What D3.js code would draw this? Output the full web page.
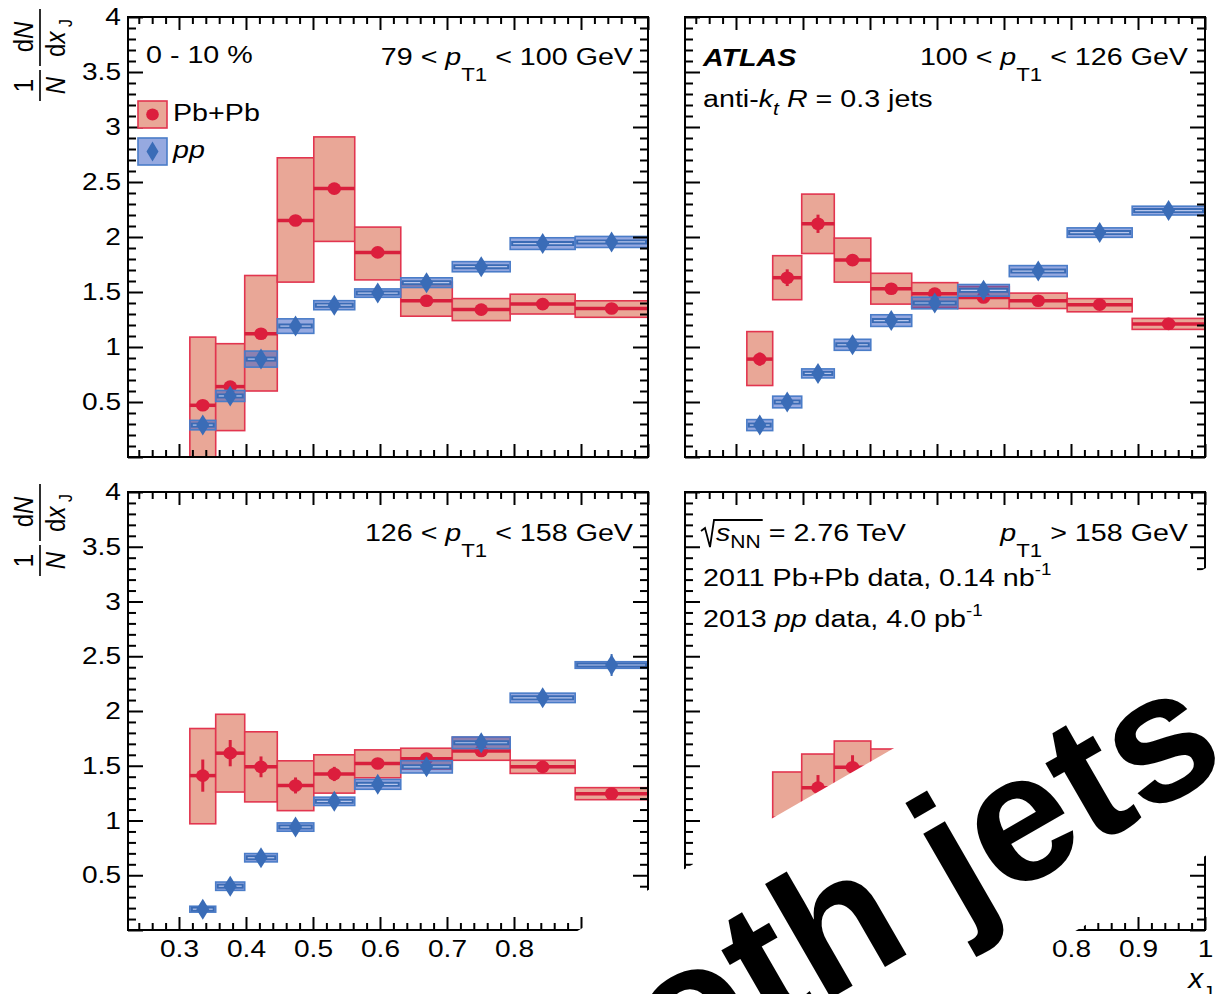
<!DOCTYPE html>
<html>
<head>
<meta charset="utf-8">
<script src="https://cdn.jsdelivr.net/npm/d3@7"></script>
<style>
  html, body { margin: 0; padding: 0; background: #fff; }
  svg { display: block; font-family: "Liberation Sans", Arial, Helvetica, sans-serif; }
  text { white-space: pre; }
</style>
</head>
<body>
<svg id="chart" width="1215" height="994"></svg>
<script>
// ---- x_J binning and axis ticks ----
const xjEdges = [0.3162, 0.3548, 0.3981, 0.4467, 0.5012, 0.5623, 0.6310, 0.7079, 0.7943, 0.8913, 1.0];
const xMajorTicks = [0.3, 0.4, 0.5, 0.6, 0.7, 0.8, 0.9, 1.0];
const xLabelsLeft = ["0.3", "0.4", "0.5", "0.6", "0.7", "0.8", "0.9", ""];
const xLabelsRight = ["0.3", "0.4", "0.5", "0.6", "0.7", "0.8", "0.9", "1"];
const yMajorTicks = [0, 0.5, 1, 1.5, 2, 2.5, 3, 3.5, 4];
const yLabels = ["", "0.5", "1", "1.5", "2", "2.5", "3", "3.5", "4"];

// ---- 79 < pT1 < 100 GeV ----
const pbpbA      = [0.47, 0.64, 1.12, 2.15, 2.44, 1.86, 1.42, 1.34, 1.39, 1.35];
const pbpbA_lo   = [-0.20, 0.24, 0.60, 1.59, 1.96, 1.61, 1.28, 1.24, 1.30, 1.27];
const pbpbA_hi   = [1.09, 1.03, 1.65, 2.72, 2.91, 2.09, 1.59, 1.44, 1.48, 1.42];
const pbpbA_stat = [0.04, 0.04, 0.04, 0.04, 0.03, 0.03, 0.02, 0.02, 0.02, 0.02];
const ppA        = [0.29, 0.555, 0.89, 1.19, 1.38, 1.49, 1.585, 1.73, 1.94, 1.955];
const ppA_sys    = [0.043, 0.05, 0.073, 0.066, 0.041, 0.038, 0.044, 0.046, 0.053, 0.05];
const ppA_stat   = [0.03, 0.03, 0.03, 0.02, 0.02, 0.02, 0.02, 0.02, 0.02, 0.02];

// ---- 100 < pT1 < 126 GeV ----
const pbpbB      = [0.89, 1.63, 2.12, 1.79, 1.53, 1.485, 1.45, 1.42, 1.385, 1.21];
const pbpbB_lo   = [0.65, 1.43, 1.85, 1.59, 1.39, 1.36, 1.35, 1.35, 1.32, 1.16];
const pbpbB_hi   = [1.14, 1.83, 2.39, 1.99, 1.67, 1.585, 1.55, 1.49, 1.44, 1.26];
const pbpbB_stat = [0.06, 0.076, 0.083, 0.04, 0.03, 0.03, 0.02, 0.02, 0.02, 0.02];
const ppB        = [0.29, 0.50, 0.76, 1.02, 1.24, 1.40, 1.515, 1.69, 2.04, 2.24];
const ppB_sys    = [0.05, 0.053, 0.041, 0.05, 0.053, 0.053, 0.053, 0.05, 0.043, 0.04];
const ppB_stat   = [0.03, 0.03, 0.02, 0.02, 0.02, 0.02, 0.02, 0.02, 0.03, 0.03];

// ---- 126 < pT1 < 158 GeV ----
const pbpbC      = [1.41, 1.615, 1.49, 1.32, 1.425, 1.52, 1.565, 1.635, 1.49, 1.245];
const pbpbC_lo   = [0.97, 1.26, 1.17, 1.09, 1.25, 1.39, 1.47, 1.55, 1.43, 1.19];
const pbpbC_hi   = [1.84, 1.97, 1.81, 1.545, 1.60, 1.645, 1.66, 1.76, 1.55, 1.30];
const pbpbC_stat = [0.147, 0.12, 0.095, 0.073, 0.065, 0.05, 0.04, 0.03, 0.02, 0.02];
const ppC        = [0.19, 0.40, 0.66, 0.94, 1.175, 1.33, 1.49, 1.71, 2.12, 2.42];
const ppC_sys    = [0.027, 0.038, 0.038, 0.038, 0.038, 0.045, 0.056, 0.053, 0.043, 0.03];
const ppC_stat   = [0.02, 0.02, 0.02, 0.02, 0.02, 0.02, 0.03, 0.03, 0.05, 0.10];

// ---- pT1 > 158 GeV (bins 2-5; the rest lies under the caption band) ----
const pbpbD      = [null, 1.02, 1.30, 1.486, 1.40];
const pbpbD_lo   = [null, 0.70, 1.02, 1.25, 1.15];
const pbpbD_hi   = [null, 1.443, 1.607, 1.726, 1.653];
const pbpbD_stat = [null, 0.06, 0.115, 0.11, 0.08];
const ppD        = [];
const ppD_sys    = [];
const ppD_stat   = [];

// ---- colours ----
const C = {
  pbFill: "#e9a797", pbEdge: "#e2354f", pbLine: "#d81f3c", pbMark: "#dc1e3d",
  ppFill: "#3f63c6", ppEdge: "#4a7cc8", ppLine: "#3a6bb5", ppMark: "#3a6cb7", ppInner: "#b8c6ec"
};

// the whole figure is drawn with text widened horizontally
const SX = 1.17;
const FONT = '"Liberation Sans", Arial, Helvetica, sans-serif';

const svg = d3.select("#chart");
const PW = 520;
const x = d3.scaleLinear().domain([0.2239, 1.0]).range([0, PW]);

function rows(v, lo, hi, stat) {
  return v.map((val, i) => ({ e0: xjEdges[i], e1: xjEdges[i + 1], v: val, lo: lo[i], hi: hi[i], stat: stat[i] }))
          .filter(d => d.v !== null);
}
function ppRows(v, sys, stat) {
  return v.map((val, i) => ({ e0: xjEdges[i], e1: xjEdges[i + 1], v: val, lo: val - sys[i], hi: val + sys[i], stat: stat[i] }));
}

const panels = [
  { ox: 128, oy: 17,  ph: 440, pb: rows(pbpbA, pbpbA_lo, pbpbA_hi, pbpbA_stat), pp: ppRows(ppA, ppA_sys, ppA_stat), left: true,  bottom: false },
  { ox: 685, oy: 17,  ph: 440, pb: rows(pbpbB, pbpbB_lo, pbpbB_hi, pbpbB_stat), pp: ppRows(ppB, ppB_sys, ppB_stat), left: false, bottom: false },
  { ox: 128, oy: 492, ph: 438, pb: rows(pbpbC, pbpbC_lo, pbpbC_hi, pbpbC_stat), pp: ppRows(ppC, ppC_sys, ppC_stat), left: true,  bottom: true, xl: xLabelsLeft },
  { ox: 685, oy: 492, ph: 438, pb: rows(pbpbD, pbpbD_lo, pbpbD_hi, pbpbD_stat), pp: ppRows(ppD, ppD_sys, ppD_stat), left: false, bottom: true, xl: xLabelsRight }
];

const xMinor = d3.range(12, 51).map(k => k * 0.02).filter(v => Math.abs(v * 10 - Math.round(v * 10)) > 1e-6 && v > 0.2239);
const yMinor = d3.range(1, 40).map(k => k * 0.1).filter(v => Math.abs(v * 2 - Math.round(v * 2)) > 1e-6);

function styleAxis(sel) {
  sel.select(".domain").remove();
  sel.selectAll(".tick line").attr("stroke", "#000").attr("stroke-width", 2);
  sel.selectAll(".tick text").attr("fill", "#000").attr("font-size", 24)
     .attr("font-family", FONT).attr("transform", `scale(${SX},1)`);
}

function diamond(hw, hh) { return `M0,${-hh}L${hw},0L0,${hh}L${-hw},0Z`; }

panels.forEach((p, pi) => {
  const PH = p.ph;
  const y = d3.scaleLinear().domain([0, 4]).range([PH, 0]);
  const g = svg.append("g").attr("transform", `translate(${p.ox},${p.oy})`);
  const clipId = "clip" + pi;
  g.append("clipPath").attr("id", clipId).append("rect").attr("width", PW).attr("height", PH);
  const dg = g.append("g").attr("clip-path", `url(#${clipId})`);

  // Pb+Pb: systematic boxes, bin-width line, stat bars, markers
  const pb = dg.append("g");
  pb.selectAll("rect").data(p.pb).join("rect")
    .attr("x", d => x(d.e0)).attr("width", d => x(d.e1) - x(d.e0))
    .attr("y", d => y(d.hi)).attr("height", d => y(d.lo) - y(d.hi))
    .attr("fill", C.pbFill).attr("stroke", C.pbEdge).attr("stroke-width", 1.6);
  pb.selectAll("line.h").data(p.pb).join("line").attr("class", "h")
    .attr("x1", d => x(d.e0)).attr("x2", d => x(d.e1))
    .attr("y1", d => y(d.v)).attr("y2", d => y(d.v))
    .attr("stroke", C.pbLine).attr("stroke-width", 3.5);
  pb.selectAll("line.s").data(p.pb).join("line").attr("class", "s")
    .attr("x1", d => x((d.e0 + d.e1) / 2)).attr("x2", d => x((d.e0 + d.e1) / 2))
    .attr("y1", d => y(d.v - d.stat)).attr("y2", d => y(d.v + d.stat))
    .attr("stroke", C.pbLine).attr("stroke-width", 3);
  pb.selectAll("ellipse").data(p.pb).join("ellipse")
    .attr("cx", d => x((d.e0 + d.e1) / 2)).attr("cy", d => y(d.v)).attr("rx", 6.8).attr("ry", 6.3)
    .attr("fill", C.pbMark);

  // pp: systematic boxes, bin-width line, stat bars, markers
  const pp = dg.append("g");
  pp.selectAll("rect").data(p.pp).join("rect")
    .attr("x", d => x(d.e0)).attr("width", d => x(d.e1) - x(d.e0))
    .attr("y", d => y(d.hi)).attr("height", d => y(d.lo) - y(d.hi))
    .attr("fill", C.ppFill).attr("fill-opacity", 0.55)
    .attr("stroke", C.ppEdge).attr("stroke-width", 1.6);
  pp.selectAll("line.h").data(p.pp).join("line").attr("class", "h")
    .attr("x1", d => x(d.e0) + 1).attr("x2", d => x(d.e1) - 1)
    .attr("y1", d => y(d.v)).attr("y2", d => y(d.v))
    .attr("stroke", C.ppLine).attr("stroke-width", 5);
  pp.selectAll("line.i").data(p.pp).join("line").attr("class", "i")
    .attr("x1", d => x(d.e0) + 3).attr("x2", d => x(d.e1) - 3)
    .attr("y1", d => y(d.v)).attr("y2", d => y(d.v))
    .attr("stroke", C.ppInner).attr("stroke-width", 1.2);
  pp.selectAll("line.s").data(p.pp).join("line").attr("class", "s")
    .attr("x1", d => x((d.e0 + d.e1) / 2)).attr("x2", d => x((d.e0 + d.e1) / 2))
    .attr("y1", d => y(d.v - d.stat)).attr("y2", d => y(d.v + d.stat))
    .attr("stroke", C.ppMark).attr("stroke-width", 2);
  pp.selectAll("path").data(p.pp).join("path")
    .attr("transform", d => `translate(${x((d.e0 + d.e1) / 2)},${y(d.v)})`)
    .attr("d", diamond(6.5, 10.5)).attr("fill", C.ppMark);

  // axes: ticks inward on all four sides
  styleAxis(g.append("g").attr("transform", `translate(0,${PH})`)
    .call(d3.axisBottom(x).tickValues(xMajorTicks).tickSize(-13).tickSizeOuter(0).tickPadding(10)
      .tickFormat((d, i) => p.bottom ? p.xl[i] : "")));
  styleAxis(g.append("g").attr("transform", `translate(0,${PH})`)
    .call(d3.axisBottom(x).tickValues(xMinor).tickSize(-7).tickSizeOuter(0).tickFormat("")));
  styleAxis(g.append("g").call(d3.axisTop(x).tickValues(xMajorTicks).tickSize(-13).tickSizeOuter(0).tickFormat("")));
  styleAxis(g.append("g").call(d3.axisTop(x).tickValues(xMinor).tickSize(-7).tickSizeOuter(0).tickFormat("")));
  styleAxis(g.append("g")
    .call(d3.axisLeft(y).tickValues(yMajorTicks).tickSize(-15).tickSizeOuter(0).tickPadding(6)
      .tickFormat((d, i) => p.left ? yLabels[i] : "")));
  styleAxis(g.append("g").call(d3.axisLeft(y).tickValues(yMinor).tickSize(-8).tickSizeOuter(0).tickFormat("")));
  styleAxis(g.append("g").attr("transform", `translate(${PW},0)`)
    .call(d3.axisRight(y).tickValues(yMajorTicks).tickSize(-15).tickSizeOuter(0).tickFormat("")));
  styleAxis(g.append("g").attr("transform", `translate(${PW},0)`)
    .call(d3.axisRight(y).tickValues(yMinor).tickSize(-8).tickSizeOuter(0).tickFormat("")));

  g.append("rect").attr("width", PW).attr("height", PH)
    .attr("fill", "none").attr("stroke", "#000").attr("stroke-width", 2);
});

// ---- rich text helper (italics, sub/superscripts), widened by SX ----
function rich(xp, yp, parts, anchor, size, sx) {
  const g = svg.append("g").attr("transform", `translate(${xp},${yp}) scale(${sx || SX},1)`);
  const t = g.append("text").attr("x", 0).attr("y", 0)
    .attr("font-size", size || 24.5).attr("text-anchor", anchor || "start").attr("fill", "#000");
  let shift = 0;
  parts.forEach(p => {
    const s = t.append("tspan").text(p.t);
    const off = p.off || 0;
    if (off !== shift) s.attr("dy", off - shift);
    shift = off;
    if (p.i) s.attr("font-style", "italic");
    if (p.b) s.attr("font-weight", "bold");
    if (p.s) s.attr("font-size", p.s);
  });
  return t;
}
const ptLabel = (lo, hi) => [
  { t: lo + " < " }, { t: "p", i: true }, { t: "T1", s: 19, off: 16 }, { t: " < " + hi + " GeV", off: 0 }
];

// panel annotations
rich(146, 63, [{ t: "0 - 10 %" }]);
rich(633, 65, ptLabel("79", "100"), "end");
rich(1188, 65, ptLabel("100", "126"), "end");
rich(633, 541, ptLabel("126", "158"), "end");
rich(1188, 541, [{ t: "p", i: true }, { t: "T1", s: 19, off: 16 }, { t: " > 158 GeV", off: 0 }], "end");
rich(703, 66, [{ t: "ATLAS", b: true, i: true }]);
rich(703, 107, [{ t: "anti-" }, { t: "k", i: true }, { t: "t", i: true, s: 18, off: 8 }, { t: " ", off: 0 }, { t: "R", i: true }, { t: " = 0.3 jets" }]);
rich(703, 586, [{ t: "2011 Pb+Pb data, 0.14 nb" }, { t: "-1", s: 16, off: -11 }]);
rich(703, 627, [{ t: "2013 " }, { t: "pp", i: true }, { t: " data, 4.0 pb" }, { t: "-1", s: 16, off: -11 }]);

// sqrt(s_NN) with a drawn radical sign
const sq = rich(716, 541, [{ t: "s", i: true }, { t: "NN", s: 18, off: 7 }, { t: " = 2.76 TeV", off: 0 }]);
const spans = sq.selectAll("tspan").nodes();
const radW = (spans[0].getComputedTextLength() + spans[1].getComputedTextLength()) * SX;
svg.append("path")
  .attr("d", `M701,531 L705,528 L710,547 L714,520 L${716 + radW + 2},520`)
  .attr("fill", "none").attr("stroke", "#000").attr("stroke-width", 1.8);

// legend
const legend = [
  { label: [{ t: "Pb+Pb" }], y: 101, kind: "pb" },
  { label: [{ t: "pp", i: true }], y: 138, kind: "pp" }
];
legend.forEach(L => {
  svg.append("rect").attr("x", 138).attr("y", L.y).attr("width", 29).attr("height", 27)
    .attr("fill", L.kind === "pb" ? C.pbFill : C.ppFill)
    .attr("fill-opacity", L.kind === "pb" ? 1 : 0.55)
    .attr("stroke", L.kind === "pb" ? C.pbEdge : C.ppEdge).attr("stroke-width", 1.6);
  if (L.kind === "pb") {
    svg.append("ellipse").attr("cx", 152.5).attr("cy", L.y + 13.5).attr("rx", 6.3).attr("ry", 6).attr("fill", C.pbMark);
  } else {
    svg.append("path").attr("transform", `translate(152.5,${L.y + 13.5})`).attr("d", diamond(6, 10)).attr("fill", C.ppMark);
  }
  rich(173, L.y + 20, L.label);
});

// y-axis titles: (1/N) dN/dx_J, rotated
function yTitle(ox, oy) {
  const g = svg.append("g").attr("transform", `translate(${ox},${oy}) scale(${SX},1) rotate(-90)`)
    .attr("font-size", 24).attr("fill", "#000");
  // 1/N
  g.append("line").attr("x1", 0).attr("x2", 31).attr("y1", 0).attr("y2", 0).attr("stroke", "#000").attr("stroke-width", 1.4);
  g.append("text").attr("x", 15.5).attr("y", -6).attr("text-anchor", "middle").text("1");
  g.append("text").attr("x", 15.5).attr("y", 21).attr("text-anchor", "middle").attr("font-style", "italic").text("N");
  // dN/dx_J
  g.append("line").attr("x1", 35).attr("x2", 92).attr("y1", 0).attr("y2", 0).attr("stroke", "#000").attr("stroke-width", 1.4);
  const num = g.append("text").attr("x", 64).attr("y", -6).attr("text-anchor", "middle");
  num.append("tspan").text("d"); num.append("tspan").attr("font-style", "italic").text("N");
  const den = g.append("text").attr("x", 63).attr("y", 21).attr("text-anchor", "middle");
  den.append("tspan").text("d"); den.append("tspan").attr("font-style", "italic").text("x");
  den.append("tspan").attr("font-size", 16).attr("dy", 6).text(" J");
}
yTitle(40, 101);
yTitle(40, 576);

// x-axis title
rich(1213, 988, [{ t: "x", i: true }, { t: "J", s: 18, off: 11 }], "end", 27, 1.1);

// overlaid caption on a white band
const band = svg.append("g").attr("transform", "translate(557.5,1156) rotate(-30)");
band.append("rect").attr("x", -400).attr("y", -185).attr("width", 1700).attr("height", 249).attr("fill", "#fff");
band.append("text").attr("x", 0).attr("y", 0).attr("font-size", 182).attr("font-weight", "bold")
  .attr("font-family", FONT).attr("fill", "#000").text("Both jets");
</script>
</body>
</html>
